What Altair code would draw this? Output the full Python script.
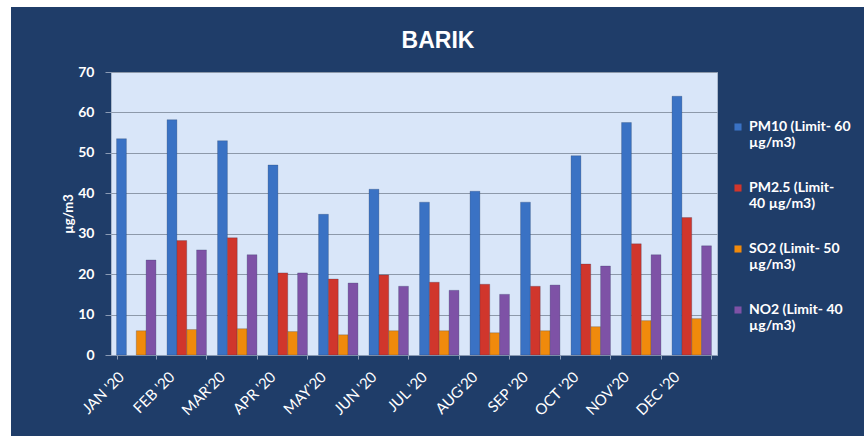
import altair as alt
import pandas as pd

months = ["JAN '20", "FEB '20", "MAR'20", "APR '20", "MAY'20", "JUN '20",
          "JUL '20", "AUG'20", "SEP '20", "OCT '20", "NOV'20", "DEC '20"]
pm10 = [53.5, 58.2, 53.0, 47.0, 34.8, 41.0, 37.8, 40.5, 37.8, 49.3, 57.5, 64.0]
pm25 = [None, 28.3, 29.0, 20.3, 18.8, 19.8, 18.0, 17.5, 17.0, 22.5, 27.5, 34.0]
so2 = [6.0, 6.3, 6.5, 5.8, 5.0, 6.0, 6.0, 5.5, 6.0, 7.0, 8.5, 9.0]
no2 = [23.5, 26.0, 24.8, 20.3, 17.8, 17.0, 16.0, 15.0, 17.3, 22.0, 24.8, 27.0]

series = ["PM10 (Limit- 60\nµg/m3)", "PM2.5 (Limit-\n40 µg/m3)",
          "SO2 (Limit- 50\nµg/m3)", "NO2 (Limit- 40\nµg/m3)"]
colors = ["#3a72c4", "#d0362c", "#f08a0c", "#7e52a6"]
title_text = "BARIK"

rows = []
for s, vals in zip(series, [pm10, pm25, so2, no2]):
    for m, v in zip(months, vals):
        if v is not None:
            rows.append({"month": m, "series": s, "value": v})
df = pd.DataFrame(rows)

NAVY = "#1f3d69"
FONT = "Lato"

bars = alt.Chart(df).mark_bar(stroke="#1a2e4f", strokeWidth=0.4, strokeOpacity=0.6).encode(
    x=alt.X("month:N", sort=months,
            scale=alt.Scale(paddingInner=0.22, paddingOuter=0.11),
            axis=alt.Axis(title=None, labelAngle=-45, labelAlign="right",
                          labelBaseline="top", labelOffset=-20, labelPadding=10,
                          labelColor="white", labelFont=FONT, labelFontSize=15,
                          labelFontWeight="normal", tickBand="extent",
                          tickColor="#8a9bb5", tickSize=4,
                          domainColor="#8a9bb5", grid=False)),
    xOffset=alt.XOffset("series:N", sort=series, scale=alt.Scale(paddingInner=0, paddingOuter=0)),
    y=alt.Y("value:Q", scale=alt.Scale(domain=[0, 70]),
            axis=alt.Axis(title="µg/m3", values=list(range(0, 71, 10)),
                          labelColor="white", labelFont=FONT, labelFontSize=14,
                          labelFontWeight="bold", labelPadding=11,
                          tickColor="#8a9bb5", tickSize=6,
                          titleColor="white", titleFont=FONT, titleFontSize=13,
                          titleFontWeight="bold", titlePadding=2,
                          gridColor="#8d99aa", gridWidth=1, domain=False)),
    color=alt.Color("series:N", sort=series,
                    scale=alt.Scale(domain=series, range=colors),
                    legend=alt.Legend(title=None, orient="none", legendX=620, legendY=48,
                                      labelExpr="split(datum.label, '\\n')",
                                      labelColor="white", labelFont=FONT,
                                      labelFontSize=14, labelFontWeight="bold",
                                      symbolType="square", symbolSize=50,
                                      symbolStrokeWidth=0, rowPadding=31,
                                      labelLimit=200)),
)

# white page margin around the dark chart panel (decoration only)
one = pd.DataFrame({"k": [0]})
left_margin = alt.Chart(one).mark_rect(color="white").encode(
    x=alt.value(-111), x2=alt.value(-100), y=alt.value(-72), y2=alt.value(364))
top_margin = alt.Chart(one).mark_rect(color="white").encode(
    x=alt.value(-111), x2=alt.value(753), y=alt.value(-72), y2=alt.value(-65))

title = alt.Chart(one).mark_text(
    text=title_text, color="white", font="Liberation Sans", fontSize=23,
    fontWeight="bold", align="center", baseline="middle",
).encode(x=alt.value(327), y=alt.value(-31))

chart = alt.layer(left_margin, top_margin, title, bars).properties(
    width=606, height=283,
    autosize=alt.AutoSizeParams(type="none"),
    padding={"left": 111, "top": 72, "right": 147, "bottom": 81},
    background=NAVY,
).configure_view(fill="#d9e6f9", stroke="#aab8cc")

chart.save("out.html", embed_options={"renderer": "svg", "actions": False})
